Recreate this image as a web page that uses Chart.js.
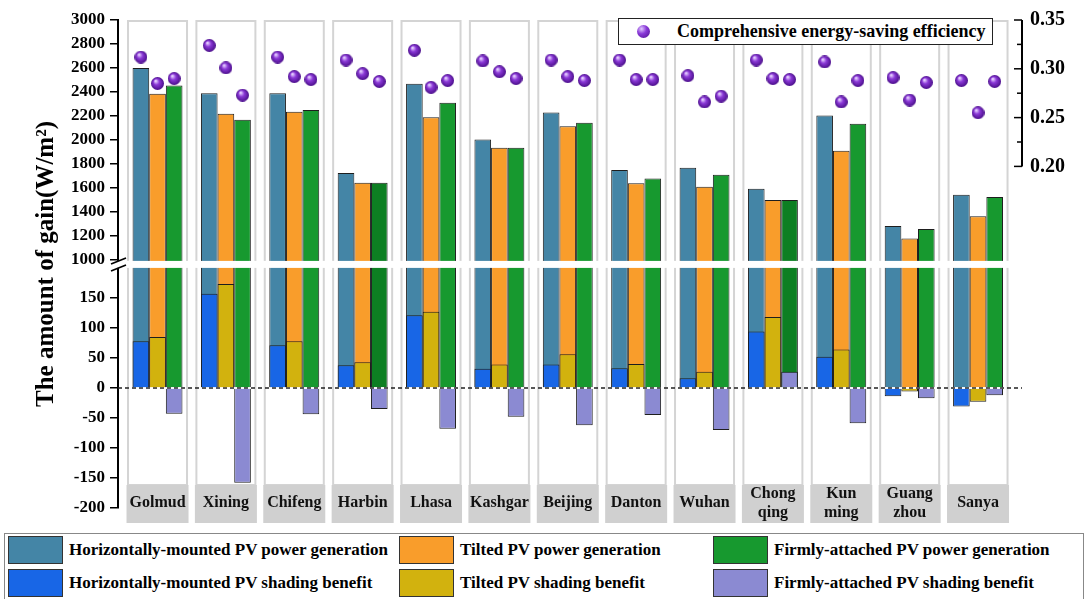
<!DOCTYPE html>
<html>
<head>
<meta charset="utf-8">
<script src="https://cdn.jsdelivr.net/npm/chart.js@4.4.1/dist/chart.umd.min.js"></script>
<style>
  body { margin: 0; background: #fff; }
  #wrap { position: relative; width: 1085px; height: 599px; overflow: hidden;
          font-family: "Liberation Serif", "Times New Roman", serif; font-weight: bold; color: #000; }
  #chart { position: absolute; left: 0; top: 0; }
  #legend { position: absolute; left: 4px; top: 533px; width: 1078px; height: 70px;
            border: 1px solid #888; background: #fff; }
  .sw { position: absolute; width: 55px; height: 28px; border: 1px solid #333; box-sizing: border-box; }
  .lt { position: absolute; font-size: 17px; line-height: 28px; white-space: nowrap; }
  #effLegend { position: absolute; left: 618px; top: 18px; width: 375px; height: 27px;
               border: 1.5px solid #222; background: #fff; box-sizing: border-box; }
  #effLegend .dot { position: absolute; left: 18px; top: 6px; width: 13px; height: 13px; border-radius: 50%;
                    background: radial-gradient(circle at 35% 30%, #e0c8ff 0%, #8a3ad8 40%, #4b0f8c 100%); }
  #effLegend .txt { position: absolute; left: 58px; top: 0; line-height: 25px; font-size: 18px; white-space: nowrap; }
</style>
</head>
<body>
<div id="wrap">
  <canvas id="chart" width="1085" height="599"></canvas>
  <div id="effLegend"><span class="dot"></span><span class="txt">Comprehensive energy-saving efficiency</span></div>
  <div id="legend"></div>
</div>
<script>
const cities = ['Golmud', 'Xining', 'Chifeng', 'Harbin', 'Lhasa', 'Kashgar', 'Beijing', 'Danton', 'Wuhan',
    ['Chong', 'qing'], ['Kun', 'ming'], ['Guang', 'zhou'], 'Sanya'];

// power generation, W/m2
const horizontalPower = [2600, 2390, 2390, 1725, 2470, 2005, 2230, 1750, 1770, 1595, 2205, 1285, 1545];
const tiltedPower = [2385, 2220, 2235, 1645, 2190, 1935, 2115, 1640, 1610, 1500, 1910, 1180, 1365];
const firmPower = [2455, 2170, 2250, 1645, 2310, 1935, 2145, 1680, 1710, 1500, 2135, 1260, 1525];

// shading benefit, W/m2
const horizontalShading = [78, 157, 71, 38, 121, 32, 39, 33, 16, 94, 52, -14, -31];
const tiltedShading = [85, 173, 78, 43, 127, 39, 56, 40, 27, 118, 64, -6, -23];
const firmShading = [-43, -158, -44, -35, -68, -48, -62, -45, -70, 27, -59, -17, -12];

// comprehensive energy-saving efficiency (right axis)
const horizontalEff = [0.312, 0.324, 0.312, 0.309, 0.319, 0.308, 0.309, 0.309, 0.293, 0.309, 0.307, 0.291, 0.288];
const tiltedEff = [0.285, 0.301, 0.292, 0.295, 0.281, 0.297, 0.292, 0.289, 0.266, 0.290, 0.266, 0.268, 0.255];
const firmEff = [0.290, 0.273, 0.289, 0.287, 0.288, 0.290, 0.288, 0.289, 0.272, 0.289, 0.288, 0.286, 0.287];

const leftTicks = [-200, -150, -100, -50, 0, 50, 100, 150, 1000, 1200, 1400, 1600, 1800, 2000, 2200, 2400, 2600, 2800, 3000];
const rightTicks = [0.20, 0.25, 0.30, 0.35];
const rightMinor = [0.225, 0.275, 0.325];

const FONT = '"Liberation Serif", "Times New Roman", serif';
const CAT_PCT = 0.73;

// broken y axis: -200..200 under the break, 1000..3000 above it (compressed 5x)
const LOW_TOP = 200, HIGH_BOTTOM = 1000, GAP = 13, HIGH_RATIO = 0.2;
const toBroken = v => {
    if (v <= LOW_TOP) return v;
    if (v >= HIGH_BOTTOM) return LOW_TOP + GAP + (v - HIGH_BOTTOM) * HIGH_RATIO;
    return LOW_TOP + GAP * (v - LOW_TOP) / (HIGH_BOTTOM - LOW_TOP);
};
const fromBroken = d => {
    if (d <= LOW_TOP) return d;
    if (d >= LOW_TOP + GAP) return HIGH_BOTTOM + (d - LOW_TOP - GAP) / HIGH_RATIO;
    return LOW_TOP + (d - LOW_TOP) / GAP * (HIGH_BOTTOM - LOW_TOP);
};

class BrokenScale extends Chart.LinearScale {
    getPixelForValue(value) {
        const lo = toBroken(this.min), hi = toBroken(this.max);
        return this.getPixelForDecimal((toBroken(value) - lo) / (hi - lo));
    }
    getValueForPixel(pixel) {
        const lo = toBroken(this.min), hi = toBroken(this.max);
        return fromBroken(lo + this.getDecimalForPixel(pixel) * (hi - lo));
    }
}
BrokenScale.id = 'broken';
BrokenScale.defaults = Chart.LinearScale.defaults;
Chart.register(BrokenScale);

// shaded purple ball used as point marker
const makeSphere = d => {
    const c = document.createElement('canvas');
    c.width = c.height = d;
    const g = c.getContext('2d');
    const r = d / 2;
    const grad = g.createRadialGradient(r * 0.7, r * 0.6, r * 0.1, r, r, r);
    grad.addColorStop(0, '#e4ccff');
    grad.addColorStop(0.4, '#8a38d6');
    grad.addColorStop(1, '#4a0e8a');
    g.fillStyle = grad;
    g.beginPath();
    g.arc(r, r, r, 0, Math.PI * 2);
    g.fill();
    return c;
};

const toPoints = (arr, shift = 0) => arr.map((y, i) => ({ x: i + shift, y }));

const barSet = (label, data, color, stack, order) => ({
    type: 'bar',
    label,
    data: toPoints(data),
    backgroundColor: color,
    borderColor: '#1e1e1e',
    borderWidth: 1,
    stack,
    order,
    yAxisID: 'y'
});

// Harbin and Chongqing bars come out a darker green
const firmGreen = cities.map((c, i) => (i === 3 || i === 9) ? '#0d7f22' : '#17992f');

const series = [
    barSet('Horizontally-mounted PV shading benefit', horizontalShading, '#1866e6', 'h', 1),
    barSet('Tilted PV shading benefit', tiltedShading, '#d2b20e', 't', 1),
    barSet('Firmly-attached PV shading benefit', firmShading, '#8b8ad2', 'f', 1),
    barSet('Horizontally-mounted PV power generation', horizontalPower, '#4485a6', 'h', 2),
    barSet('Tilted PV power generation', tiltedPower, '#f99d2b', 't', 2),
    barSet('Firmly-attached PV power generation', firmPower, firmGreen, 'f', 2)
];

const step = CAT_PCT / 3;
series.push({
    type: 'scatter',
    label: 'Comprehensive energy-saving efficiency',
    data: [...toPoints(horizontalEff, -step), ...toPoints(tiltedEff), ...toPoints(firmEff, step)],
    pointStyle: makeSphere(13),
    yAxisID: 'y1',
    order: 0
});

// column frames, city tabs, zero line, axis break and the short right axis
const decorations = {
    id: 'decorations',
    beforeDatasetsDraw(chart) {
        const { ctx, chartArea: area, scales: { x, y } } = chart;
        ctx.save();
        const tabTop = area.bottom - 23, tabBottom = area.bottom + 15;
        cities.forEach((name, i) => {
            const cx = x.getPixelForValue(i);
            ctx.strokeStyle = '#d4d4d4';
            ctx.lineWidth = 2;
            ctx.strokeRect(cx - 29.5, area.top + 1, 59, tabTop - area.top - 1);
            ctx.fillStyle = '#d0d0d0';
            ctx.fillRect(cx - 31, tabTop, 62, tabBottom - tabTop);
            ctx.fillStyle = '#111';
            ctx.font = 'bold 16px ' + FONT;
            ctx.textAlign = 'center';
            ctx.textBaseline = 'middle';
            const lines = Array.isArray(name) ? name : [name];
            const mid = (tabTop + tabBottom) / 2 - 1;
            lines.forEach((t, k) => ctx.fillText(t, cx, mid + (k - (lines.length - 1) / 2) * 19));
        });
        const y0 = y.getPixelForValue(0);
        ctx.strokeStyle = '#222';
        ctx.lineWidth = 1.5;
        ctx.setLineDash([4, 3]);
        ctx.beginPath();
        ctx.moveTo(area.left, y0);
        ctx.lineTo(area.right, y0);
        ctx.stroke();
        ctx.restore();
    },
    afterDatasetsDraw(chart) {
        const { ctx, chartArea: area, scales: { y, y1 } } = chart;
        ctx.save();
        const gTop = y.getPixelForValue(HIGH_BOTTOM) + 0.8;
        const gBot = y.getPixelForValue(LOW_TOP);
        ctx.fillStyle = '#fff';
        ctx.fillRect(area.left - 2, gTop, area.right - area.left + 2, gBot - gTop);
        // break marks on the left axis
        ctx.strokeStyle = '#000';
        ctx.lineWidth = 1.6;
        [gTop, gBot].forEach(yy => {
            ctx.beginPath();
            ctx.moveTo(area.left - 7, yy + 3);
            ctx.lineTo(area.left + 8, yy - 3);
            ctx.stroke();
        });
        // right axis only spans 0.20 - 0.35
        const rx = area.right;
        ctx.lineWidth = 2;
        ctx.beginPath();
        ctx.moveTo(rx, y1.getPixelForValue(rightTicks[rightTicks.length - 1]));
        ctx.lineTo(rx, y1.getPixelForValue(rightTicks[0]));
        ctx.stroke();
        ctx.lineWidth = 1.5;
        rightTicks.forEach(v => {
            const py = y1.getPixelForValue(v);
            ctx.beginPath(); ctx.moveTo(rx - 8, py); ctx.lineTo(rx, py); ctx.stroke();
        });
        rightMinor.forEach(v => {
            const py = y1.getPixelForValue(v);
            ctx.beginPath(); ctx.moveTo(rx - 5, py); ctx.lineTo(rx, py); ctx.stroke();
        });
        ctx.restore();
    }
};

new Chart('chart', {
    data: { datasets: series },
    options: {
        responsive: false,
        animation: false,
        devicePixelRatio: 1,
        layout: { padding: { top: 15, bottom: 91, left: 0, right: 0 } },
        plugins: { legend: { display: false }, tooltip: { enabled: false } },
        datasets: { bar: { categoryPercentage: CAT_PCT, barPercentage: 1 } },
        scales: {
            x: {
                type: 'linear',
                offset: false,
                min: -0.578,
                max: 12.643,
                afterBuildTicks: s => { s.ticks = cities.map((c, i) => ({ value: i })); },
                afterFit: s => { s.height = 0; },
                ticks: { display: false },
                grid: { display: false, drawTicks: false },
                border: { display: false }
            },
            y: {
                type: 'broken',
                position: 'left',
                min: -200,
                max: 3000,
                stacked: false,
                afterFit: s => { s.width = 118; },
                afterBuildTicks: s => { s.ticks = leftTicks.map(value => ({ value })); },
                ticks: {
                    autoSkip: false,
                    callback: v => v,
                    color: '#000',
                    padding: 5,
                    font: { family: FONT, size: 17, weight: 'bold' }
                },
                grid: { drawOnChartArea: false, tickLength: 8, color: '#000', lineWidth: 1.5 },
                border: { color: '#000', width: 2 },
                title: {
                    display: true,
                    text: 'The amount of gain(W/m²)',
                    color: '#000',
                    font: { family: FONT, size: 25, weight: 'bold' },
                    padding: { top: 32, bottom: 0 }
                }
            },
            y1: {
                type: 'linear',
                position: 'right',
                min: -0.15,
                max: 0.35,
                afterFit: s => { s.width = 63; },
                afterBuildTicks: s => { s.ticks = rightTicks.map(value => ({ value })); },
                ticks: {
                    autoSkip: false,
                    callback: v => v.toFixed(2),
                    color: '#000',
                    padding: 8,
                    font: { family: FONT, size: 20, weight: 'bold' }
                },
                grid: { display: false, drawTicks: false },
                border: { display: false }
            }
        }
    },
    plugins: [decorations]
});

// two-row legend for the bar series
const legendRows = [
    [['Horizontally-mounted PV power generation', '#4485a6'], ['Tilted PV power generation', '#f99d2b'], ['Firmly-attached PV power generation', '#17992f']],
    [['Horizontally-mounted PV shading benefit', '#1866e6'], ['Tilted PV shading benefit', '#d2b20e'], ['Firmly-attached PV shading benefit', '#8b8ad2']]
];
const colX = [3, 394, 708];
const legend = document.getElementById('legend');
legendRows.forEach((row, r) => {
    row.forEach(([text, color], c) => {
        const sw = document.createElement('div');
        sw.className = 'sw';
        sw.style.left = colX[c] + 'px';
        sw.style.top = (2 + r * 33) + 'px';
        sw.style.background = color;
        const lt = document.createElement('div');
        lt.className = 'lt';
        lt.style.left = (colX[c] + 61) + 'px';
        lt.style.top = (2 + r * 33) + 'px';
        lt.textContent = text;
        legend.appendChild(sw);
        legend.appendChild(lt);
    });
});
</script>
</body>
</html>
